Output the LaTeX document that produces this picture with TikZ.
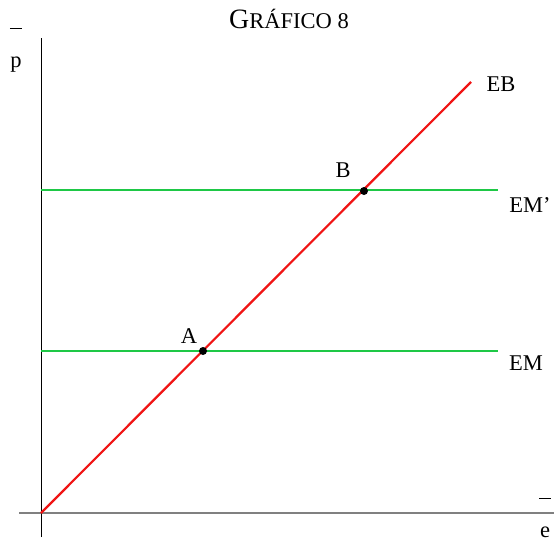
\documentclass[tikz,border=0pt]{standalone}
\usepackage{fontspec}
\setmainfont{Liberation Serif}
\definecolor{ebred}{RGB}{240,20,20}
\definecolor{emgreen}{RGB}{30,200,70}
\definecolor{axgray}{RGB}{128,128,128}
\newcommand{\barred}[1]{{\setbox0\hbox{#1}\vbox{\hbox to\wd0{\hss\rule{12pt}{1pt}\hss}\vskip12.5pt\box0}}}
\begin{document}
\begin{tikzpicture}[x=1pt,y=-1pt,
  lbl/.style={font=\fontsize{22.5}{26}\selectfont, inner sep=0pt},
  dot/.style={circle,fill=black,inner sep=0pt,minimum size=8pt},
  redline/.style={ebred,line width=2.2pt},
  greenline/.style={emgreen,line width=2.2pt}]
\useasboundingbox (0,0) rectangle (554,541);
% axes
\coordinate (O) at (41,513);
\coordinate (ytop) at (41,38);
\coordinate (ybot) at (41,537);
\coordinate (xl) at (19,513);
\coordinate (xr) at (554,513);
\draw[axgray,line width=1.8pt] (xl) -- (xr);
\draw[black,line width=1pt] (ybot) -- (ytop);
% lines
\coordinate (ebend) at (471,82);
\coordinate (em1a) at (41,351);
\coordinate (em1b) at (498,351);
\coordinate (em2a) at (41,190);
\coordinate (em2b) at (498,190);
\draw[greenline] (em1a) -- (em1b);
\draw[greenline] (em2a) -- (em2b);
\draw[redline] (O) -- (ebend);
% points
\node[dot] (A) at (203,351) {};
\node[dot] (B) at (364,191) {};
% labels
\node[lbl] (title) at (289,19) {\fontsize{28}{32}\selectfont G\fontsize{22.5}{26}\selectfont RÁFICO 8};
\node[lbl,anchor=base] (pl) at (16,67) {\barred{p}};
\node[lbl,anchor=base] (el) at (545,537.5) {\barred{e}};
\node[lbl] (EB) at (501,84) {EB};
\node[lbl] (EMp) at (530,205) {EM’};
\node[lbl] (EM) at (526,363) {EM};
\node[lbl] (Al) at (189,336) {A};
\node[lbl] (Bl) at (343,170) {B};
\end{tikzpicture}
\end{document}
